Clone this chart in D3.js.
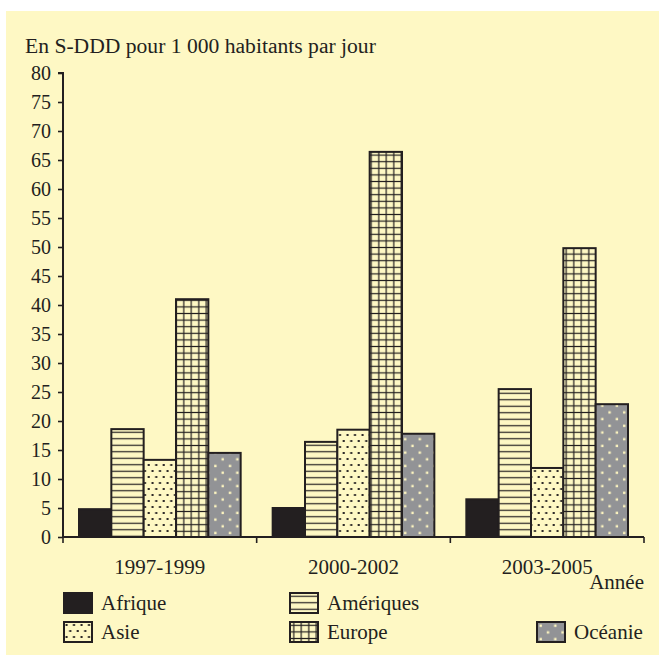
<!DOCTYPE html>
<html>
<head>
<meta charset="utf-8">
<script src="https://cdn.jsdelivr.net/npm/d3@7"></script>
<style>
  html, body { margin: 0; padding: 0; background: #ffffff; }
  svg { display: block; }
  text { font-family: "Liberation Serif", "Times New Roman", serif; fill: #231f20; }
</style>
</head>
<body>
<script>
// ---- data ----
const categories = ["1997-1999", "2000-2002", "2003-2005"];
const seriesNames = ["Afrique", "Amériques", "Asie", "Europe", "Océanie"];
const afrique   = [4.8, 5.0, 6.5];
const ameriques = [18.6, 16.4, 25.5];
const asie      = [13.3, 18.5, 11.9];
const europe    = [41.0, 66.4, 49.8];
const oceanie   = [14.5, 17.8, 22.9];
const yTicks = [0, 5, 10, 15, 20, 25, 30, 35, 40, 45, 50, 55, 60, 65, 70, 75, 80];
const titleText = "En S-DDD pour 1 000 habitants par jour";
const xAxisTitle = "Année";

const seriesValues = [afrique, ameriques, asie, europe, oceanie];

const W = 659, H = 662;
const ink = "#231f20";
const bg = "#fef8c4";

const svg = d3.select("body").append("svg").attr("width", W).attr("height", H);

// panel
svg.append("rect").attr("x", 6).attr("y", 11).attr("width", W - 6).attr("height", 644).attr("fill", bg);

// patterns
const defs = svg.append("defs");
const fills = ["afr", "ame", "asi", "eur", "oce"];

const pAme = defs.append("pattern").attr("id", "ame").attr("patternUnits", "userSpaceOnUse")
  .attr("width", 10).attr("height", 6.5);
pAme.append("rect").attr("width", 10).attr("height", 6.5).attr("fill", bg);
pAme.append("line").attr("x1", 0).attr("x2", 10).attr("y1", 3.25).attr("y2", 3.25)
  .attr("stroke", ink).attr("stroke-width", 1.2);

const pEur = defs.append("pattern").attr("id", "eur").attr("patternUnits", "userSpaceOnUse")
  .attr("width", 7.5).attr("height", 6.6);
pEur.append("rect").attr("width", 7.5).attr("height", 6.6).attr("fill", bg);
pEur.append("line").attr("x1", 0).attr("x2", 7.5).attr("y1", 3.3).attr("y2", 3.3)
  .attr("stroke", ink).attr("stroke-width", 1.2);
pEur.append("line").attr("x1", 3.75).attr("x2", 3.75).attr("y1", 0).attr("y2", 6.6)
  .attr("stroke", ink).attr("stroke-width", 1.2);

const pAsi = defs.append("pattern").attr("id", "asi").attr("patternUnits", "userSpaceOnUse")
  .attr("width", 7.5).attr("height", 12);
pAsi.append("rect").attr("width", 7.5).attr("height", 12).attr("fill", bg);
pAsi.append("rect").attr("x", 1.5).attr("y", 2).attr("width", 2).attr("height", 2).attr("fill", ink);
pAsi.append("rect").attr("x", 5.25).attr("y", 8).attr("width", 2).attr("height", 2).attr("fill", ink);

const pOce = defs.append("pattern").attr("id", "oce").attr("patternUnits", "userSpaceOnUse")
  .attr("width", 14.6).attr("height", 13.4);
pOce.append("rect").attr("width", 14.6).attr("height", 13.4).attr("fill", "#929396");
pOce.append("rect").attr("x", 2.5).attr("y", 2.5).attr("width", 2.4).attr("height", 2.4).attr("fill", "#fdf5c0");
pOce.append("rect").attr("x", 9.8).attr("y", 9.2).attr("width", 2.4).attr("height", 2.4).attr("fill", "#fdf5c0");

const fillFor = i => i === 0 ? ink : `url(#${fills[i]})`;

// scales
const x0 = d3.scaleBand().domain(categories).range([63, 644]).paddingInner(0).paddingOuter(0);
const x1 = d3.scaleBand().domain(seriesNames).range([16, x0.bandwidth() - 16]).padding(0);
const y = d3.scaleLinear().domain([0, 80]).range([537, 73]);

// bars
const data = [];
categories.forEach((c, ci) => {
  seriesNames.forEach((s, si) => {
    data.push({ c, s, si, v: seriesValues[si][ci] });
  });
});

svg.append("g").selectAll("rect").data(data).join("rect")
  .attr("x", d => x0(d.c) + x1(d.s))
  .attr("y", d => y(d.v))
  .attr("width", x1.bandwidth())
  .attr("height", d => y(0) - y(d.v))
  .attr("fill", d => fillFor(d.si))
  .attr("stroke", ink)
  .attr("stroke-width", 2);

// y axis
const yAxis = d3.axisLeft(y).tickValues(yTicks).tickSize(5).tickPadding(7).tickFormat(d3.format("d"));
const gy = svg.append("g").attr("transform", "translate(63,0)").call(yAxis);
gy.select(".domain").attr("stroke", ink).attr("stroke-width", 2).attr("d", `M-5,${y(80)}H0V${y(0)}`);
gy.selectAll(".tick line").attr("stroke", ink).attr("stroke-width", 1.6);
gy.selectAll(".tick text").attr("font-size", 20).attr("fill", ink)
  .attr("font-family", "'Liberation Serif', serif");

// x axis
const gx = svg.append("g").attr("transform", `translate(0,${y(0)})`);
gx.append("line").attr("x1", x0.range()[0]).attr("x2", x0.range()[1]).attr("y1", 0).attr("y2", 0)
  .attr("stroke", ink).attr("stroke-width", 2);
const bounds = categories.map(c => x0(c)).concat([x0(categories[categories.length - 1]) + x0.bandwidth()]);
gx.selectAll("line.bt").data(bounds).join("line").attr("class", "bt")
  .attr("x1", d => d).attr("x2", d => d).attr("y1", 0).attr("y2", 6)
  .attr("stroke", ink).attr("stroke-width", 1.6);
gx.selectAll("text.cat").data(categories).join("text").attr("class", "cat")
  .attr("x", d => x0(d) + x0.bandwidth() / 2).attr("y", 37)
  .attr("text-anchor", "middle").attr("font-size", 21).text(d => d);

// titles
svg.append("text").attr("x", 25).attr("y", 53).attr("font-size", 21.6).text(titleText);
svg.append("text").attr("x", 644).attr("y", 589).attr("text-anchor", "end").attr("font-size", 21).text(xAxisTitle);

// legend
const legendPos = [
  { x: 64, y: 593 }, { x: 290, y: 593 }, { x: 64, y: 622 }, { x: 290, y: 622 }, { x: 537, y: 622 }
];
const lg = svg.append("g").selectAll("g").data(seriesNames).join("g")
  .attr("transform", (d, i) => `translate(${legendPos[i].x},${legendPos[i].y})`);
lg.append("rect").attr("width", 28).attr("height", 20)
  .attr("fill", (d, i) => fillFor(i)).attr("stroke", ink).attr("stroke-width", 2);
lg.append("text").attr("x", 37).attr("y", 17).attr("font-size", 21).text(d => d);
</script>
</body>
</html>
